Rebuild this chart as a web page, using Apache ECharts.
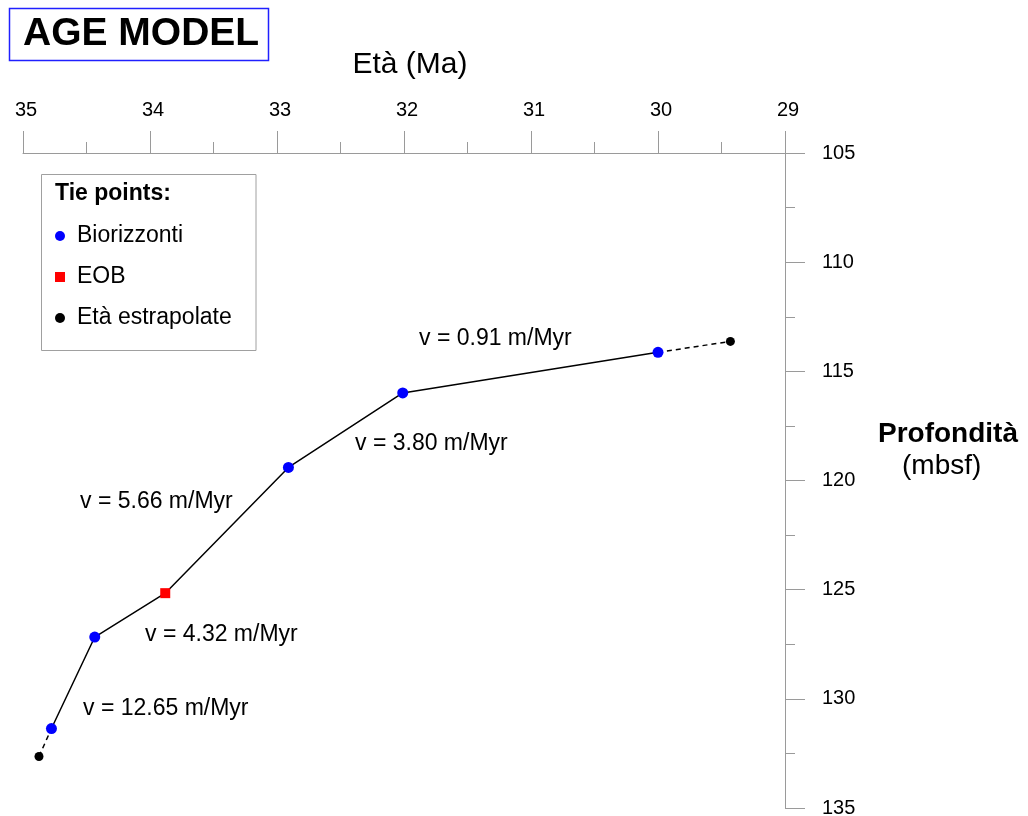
<!DOCTYPE html>
<html><head><meta charset="utf-8">
<script src="https://cdn.jsdelivr.net/npm/echarts@6/dist/echarts.min.js"></script>
<style>html,body{margin:0;padding:0;background:#fff}#c{width:1028px;height:816px}</style>
</head><body><div id="c"></div><script>
// Tie points (age in Ma, depth in mbsf), from left (old) to right (young)
const tieAges   = [34.874, 34.776, 34.435, 33.88, 32.91, 32.01, 30.00, 29.43];
const tieDepths = [132.64, 131.36, 127.17, 125.16, 119.40, 115.99, 114.13, 113.63];
const tieTypes  = ['extra', 'bio', 'bio', 'eob', 'bio', 'bio', 'bio', 'extra'];
const legendNames = {bio: 'Biorizzonti', eob: 'EOB', extra: 'Età estrapolate'};
const rateLabels = ['v = 12.65 m/Myr', 'v = 4.32 m/Myr', 'v = 5.66 m/Myr', 'v = 3.80 m/Myr', 'v = 0.91 m/Myr'];
const xTicks = {min: 29, max: 35, interval: 1};
const yTicks = {min: 105, max: 135, interval: 5};

const FONT = 'Liberation Sans, Arial, sans-serif';
const AX = '#9a9a9a';
const pts = tieAges.map((a, i) => [a, tieDepths[i]]);
const firstTie = tieTypes.indexOf('bio');
const lastTie = tieTypes.lastIndexOf('bio');
const solid = pts.slice(firstTie, lastTie + 1);
const dashA = pts.slice(0, firstTie + 1);
const dashB = pts.slice(lastTie);
const byType = t => pts.filter((p, i) => tieTypes[i] === t);

const chart = echarts.init(document.getElementById('c'), null, {renderer: 'canvas'});
const ratePos = [[83, 709], [145, 635], [80, 502], [355, 444], [419, 339]];

chart.setOption({
  animation: false,
  backgroundColor: '#fff',
  grid: {left: 23, top: 153, width: 762, height: 655, containLabel: false, outerBoundsMode: 'none'},
  xAxis: {
    type: 'value', position: 'top', inverse: true,
    min: xTicks.min, max: xTicks.max, interval: xTicks.interval,
    axisLine: {show: true, onZero: false, lineStyle: {color: AX, width: 1}},
    axisTick: {show: true, length: 22, lineStyle: {color: AX, width: 1}},
    minorTick: {show: true, splitNumber: 2, length: 11, lineStyle: {color: AX, width: 1}},
    axisLabel: {margin: 33, fontSize: 20, color: '#000', fontFamily: FONT, padding: [0, 0, 0, 6]},
    splitLine: {show: false}, minorSplitLine: {show: false}
  },
  yAxis: {
    type: 'value', position: 'right', inverse: true,
    min: yTicks.min, max: yTicks.max, interval: yTicks.interval,
    axisLine: {show: true, onZero: false, lineStyle: {color: AX, width: 1}},
    axisTick: {show: true, length: 20, lineStyle: {color: AX, width: 1}},
    minorTick: {show: true, splitNumber: 2, length: 10, lineStyle: {color: AX, width: 1}},
    axisLabel: {margin: 37, fontSize: 20, color: '#000', fontFamily: FONT},
    splitLine: {show: false}, minorSplitLine: {show: false}
  },
  legend: {
    data: [legendNames.bio, legendNames.eob, legendNames.extra],
    orient: 'vertical', left: 55, top: 224.5, padding: 0,
    itemWidth: 10, itemHeight: 10, itemGap: 18, z: 10,
    selectedMode: false,
    itemStyle: {opacity: 1},
    textStyle: {fontSize: 23, lineHeight: 23, color: '#000', fontFamily: FONT, padding: [0, 0, 0, 7]}
  },
  graphic: [
    {type: 'rect', z: 1, shape: {x: 9.5, y: 8.5, width: 259, height: 52}, style: {fill: '#fff', stroke: '#2020ff', lineWidth: 1.5}},
    {type: 'text', z: 2, x: 23, y: 34, style: {text: 'AGE MODEL', font: 'bold 39px ' + FONT, fill: '#000', verticalAlign: 'middle'}},
    {type: 'text', z: 2, x: 410, y: 65, style: {text: 'Età (Ma)', font: '30px ' + FONT, fill: '#000', align: 'center', verticalAlign: 'middle'}},
    {type: 'text', z: 2, x: 878, y: 434, style: {text: 'Profondità', font: 'bold 28px ' + FONT, fill: '#000', verticalAlign: 'middle'}},
    {type: 'text', z: 2, x: 902, y: 466, style: {text: '(mbsf)', font: '28px ' + FONT, fill: '#000', verticalAlign: 'middle'}},
    {type: 'rect', z: 1, shape: {x: 41.5, y: 174.5, width: 214.5, height: 176}, style: {fill: '#fff', stroke: '#a0a0a0', lineWidth: 1}},
    {type: 'text', z: 2, x: 55, y: 194, style: {text: 'Tie points:', font: 'bold 23px ' + FONT, fill: '#000', verticalAlign: 'middle'}}
  ].concat(rateLabels.map((t, i) => ({
    type: 'text', z: 2, x: ratePos[i][0], y: ratePos[i][1],
    style: {text: t, font: '23px ' + FONT, fill: '#000', verticalAlign: 'middle'}
  }))),
  series: [
    {type: 'line', data: solid, symbol: 'none', silent: true, z: 2, lineStyle: {color: '#000', width: 1.5}},
    {type: 'line', data: dashA, symbol: 'none', silent: true, z: 2, lineStyle: {color: '#000', width: 1.5, type: [5, 4]}},
    {type: 'line', data: dashB, symbol: 'none', silent: true, z: 2, lineStyle: {color: '#000', width: 1.5, type: [5, 4]}},
    {name: legendNames.bio, type: 'scatter', data: byType('bio'), symbol: 'circle', symbolSize: 11, z: 4, itemStyle: {color: '#0000ff', opacity: 1}},
    {name: legendNames.eob, type: 'scatter', data: byType('eob'), symbol: 'rect', symbolSize: 10, z: 4, itemStyle: {color: '#ff0000', opacity: 1}},
    {name: legendNames.extra, type: 'scatter', data: byType('extra'), symbol: 'circle', symbolSize: 9, z: 4, itemStyle: {color: '#000', opacity: 1}}
  ]
});
</script></body></html>
